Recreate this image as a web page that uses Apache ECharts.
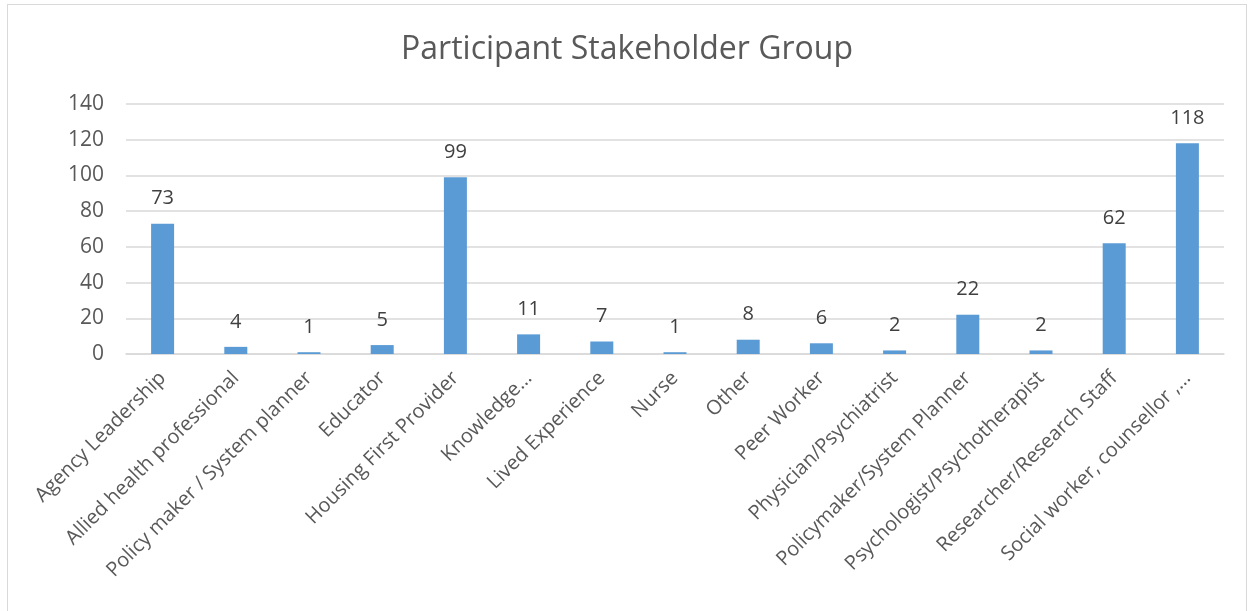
<!DOCTYPE html>
<html>
<head>
<meta charset="utf-8">
<script src="https://cdn.jsdelivr.net/npm/echarts@6/dist/echarts.min.js"></script>
<style>
  html, body { margin: 0; padding: 0; background: #fff; }
  #chart {
    position: absolute; left: 7px; top: 4px;
    width: 1240px; height: 620px;
    border: 1px solid #d9d9d9;
    box-sizing: border-box;
  }
</style>
</head>
<body>
<div id="chart"></div>
<script>
// stakeholder groups and participant counts
const categories = [
  'Agency Leadership', 'Allied health professional', 'Policy maker / System planner',
  'Educator', 'Housing First Provider', 'Knowledge…', 'Lived Experience', 'Nurse',
  'Other', 'Peer Worker', 'Physician/Psychiatrist', 'Policymaker/System Planner',
  'Psychologist/Psychotherapist', 'Researcher/Research Staff', 'Social worker, counsellor ,…'
];
const counts = [73, 4, 1, 5, 99, 11, 7, 1, 8, 6, 2, 22, 2, 62, 118];
const yTicks = { min: 0, max: 140, interval: 20 };

const font = 'Open Sans';
const chart = echarts.init(document.getElementById('chart'));

chart.setOption({
  animation: false,
  title: {
    text: 'Participant Stakeholder Group',
    left: 'center',
    top: 24,
    textStyle: { fontFamily: font, fontSize: 32, fontWeight: 'normal', color: '#595959' }
  },
  grid: { left: 118, right: 22, top: 99, bottom: 269 },
  xAxis: {
    type: 'category',
    data: categories,
    axisLine: { lineStyle: { color: '#d9d9d9', width: 1.5 } },
    axisTick: { show: false },
    axisLabel: {
      interval: 0, rotate: 45, margin: 21,
      fontFamily: font, fontSize: 20, color: '#595959'
    }
  },
  yAxis: {
    type: 'value',
    min: yTicks.min, max: yTicks.max, interval: yTicks.interval,
    axisLine: { show: false },
    axisTick: { show: false },
    splitLine: { lineStyle: { color: '#d9d9d9', width: 1.5 } },
    axisLabel: { fontFamily: font, fontSize: 21, color: '#595959', margin: 22 }
  },
  series: [{
    type: 'bar',
    data: counts,
    barWidth: 23,
    itemStyle: { color: '#5b9bd5' },
    label: {
      show: true, position: 'top', distance: 15,
      fontFamily: font, fontSize: 20, color: '#404040'
    }
  }]
});
</script>
</body>
</html>
